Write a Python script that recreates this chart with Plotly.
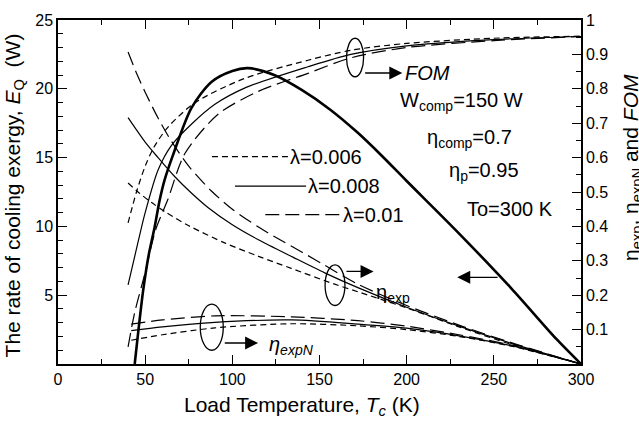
import plotly.graph_objects as go

# ---------------- data ----------------
# Rate of cooling exergy E_Q (W), left axis (single thick curve)
T_EQ = [44, 46, 48.8, 52, 55.5, 58.3, 61.2, 66, 76.5, 88, 100, 109, 124, 140, 156, 172, 186, 200, 228.7, 260, 286, 300]
EQ = [0, 2.3, 5.3, 7.9, 10.0, 11.9, 13.4, 15.2, 18.6, 20.5, 21.3, 21.5, 21.0, 19.9, 18.5, 16.8, 15.1, 13.3, 9.66, 5.5, 1.8, 0]

# eta_exp (right axis) for three lambda values
T_EXP_001 = [40.2, 45, 50, 57.4, 65, 75, 88, 100, 115, 124.3, 140, 153, 172, 200, 230, 260, 300]
EXP_001 = [0.907, 0.846, 0.79, 0.715, 0.648, 0.575, 0.503, 0.45, 0.398, 0.37, 0.325, 0.287, 0.232, 0.17, 0.113, 0.062, 0]
T_EXP_0008 = [40.2, 50, 57.4, 66.9, 76.5, 86, 100, 114.7, 135, 153, 172, 200, 230, 260, 300]
EXP_0008 = [0.716, 0.645, 0.6, 0.545, 0.497, 0.455, 0.405, 0.362, 0.31, 0.265, 0.222, 0.165, 0.11, 0.06, 0]
T_EXP_0006 = [40.2, 45.9, 53.5, 61.2, 75, 95.6, 115, 133.8, 158.7, 172, 200, 230, 260, 300]
EXP_0006 = [0.526, 0.5, 0.47, 0.443, 0.402, 0.352, 0.313, 0.278, 0.232, 0.21, 0.163, 0.108, 0.057, 0]

# eta_expN (right axis)
T_N = [42, 60, 90, 134, 172, 200, 230, 260, 300]
N_001 = [0.116, 0.128, 0.14, 0.137, 0.126, 0.11, 0.085, 0.055, 0]
N_0008 = [0.097, 0.108, 0.121, 0.128, 0.116, 0.104, 0.082, 0.053, 0]
N_0006 = [0.069, 0.085, 0.105, 0.117, 0.111, 0.1, 0.08, 0.052, 0]

# FOM (right axis)
T_FOM_0006 = [40.2, 45, 50, 55, 63, 78.4, 107, 143.4, 168, 200, 250, 300]
FOM_0006 = [0.41, 0.50, 0.575, 0.63, 0.688, 0.759, 0.83, 0.883, 0.912, 0.932, 0.947, 0.953]
T_FOM_0008 = [40.2, 45.9, 50, 57.4, 65, 76.5, 90, 107, 143.4, 168, 200, 250, 300]
FOM_0008 = [0.23, 0.354, 0.44, 0.564, 0.635, 0.697, 0.755, 0.802, 0.864, 0.9, 0.925, 0.943, 0.952]
T_FOM_001 = [40.2, 44, 49.7, 56, 63, 72.7, 91.8, 114.7, 143.4, 168, 200, 250, 300]
FOM_001 = [0.05, 0.15, 0.26, 0.39, 0.478, 0.611, 0.726, 0.792, 0.845, 0.89, 0.92, 0.94, 0.952]

LAMBDAS = ["λ=0.006", "λ=0.008", "λ=0.01"]
X_TICKS = [0, 50, 100, 150, 200, 250, 300]
Y1_TICKS = [5, 10, 15, 20, 25]
Y2_TICKS = [0.1, 0.2, 0.3, 0.4, 0.5, 0.6, 0.7, 0.8, 0.9, 1]

# ---------------- styles ----------------
FONT = "Arial, Liberation Sans, sans-serif"
DASH = {"λ=0.006": "6px,4px", "λ=0.008": "solid", "λ=0.01": "14px,6px"}
THIN = 1.2

fig = go.Figure()

def thin(x, y, lam):
    fig.add_trace(go.Scatter(x=x, y=y, yaxis="y2", mode="lines",
                             line=dict(color="black", width=THIN, dash=DASH[lam], shape="spline", smoothing=0.8),
                             showlegend=False, hoverinfo="skip"))

thin(T_EXP_0006, EXP_0006, "λ=0.006")
thin(T_EXP_0008, EXP_0008, "λ=0.008")
thin(T_EXP_001, EXP_001, "λ=0.01")
thin(T_N, N_0006, "λ=0.006")
thin(T_N, N_0008, "λ=0.008")
thin(T_N, N_001, "λ=0.01")
thin(T_FOM_0006, FOM_0006, "λ=0.006")
thin(T_FOM_0008, FOM_0008, "λ=0.008")
thin(T_FOM_001, FOM_001, "λ=0.01")

fig.add_trace(go.Scatter(x=T_EQ, y=EQ, mode="lines",
                         line=dict(color="black", width=2.6, shape="spline", smoothing=0.8),
                         showlegend=False, hoverinfo="skip"))

TXT = dict(size=20, family=FONT, color="black")

# ---------------- legend (drawn manually) ----------------
legend_rows = [(88.3, 131.9, 0.603), (101.5, 142.3, 0.517), (118.9, 162.3, 0.434)]
for lam, (xa, xb, yv) in zip(LAMBDAS, legend_rows):
    fig.add_shape(type="line", xref="x", yref="y2", x0=xa, x1=xb, y0=yv, y1=yv,
                  line=dict(color="black", width=THIN, dash=DASH[lam]))
    fig.add_annotation(xref="x", yref="y2", x=xb, y=yv, text=lam, showarrow=False,
                       xanchor="left", yanchor="middle", font=TXT)

# ---------------- ellipses + arrows ----------------
def ellipse(xc, yc, dx, dy):
    fig.add_shape(type="circle", xref="x", yref="y2", x0=xc - dx, x1=xc + dx, y0=yc - dy, y1=yc + dy,
                  line=dict(color="black", width=1.3))

ellipse(170.4, 0.891, 4.9, 0.056)   # FOM
ellipse(158.9, 0.229, 5.7, 0.059)   # eta_exp
ellipse(88.2, 0.107, 6.6, 0.067)    # eta_expN

def arrow(x0, y0, x1, y1, yref="y2"):
    fig.add_annotation(x=x1, y=y1, ax=x0, ay=y0, xref="x", yref=yref, axref="x", ayref=yref,
                       showarrow=True, arrowhead=2, arrowsize=2.0, arrowwidth=1.3, arrowcolor="black", text="")

arrow(175.3, 0.846, 197.5, 0.846)
arrow(164.6, 0.269, 181, 0.269)
arrow(94.8, 0.061, 114.8, 0.061)
arrow(253, 6.3, 229, 6.3, yref="y")

fig.add_annotation(xref="x", yref="y2", x=198, y=0.847, text="<i>FOM</i>", showarrow=False,
                   xanchor="left", yanchor="middle", font=TXT)
fig.add_annotation(xref="x", yref="y2", x=181, y=0.205, text="η<sub>exp</sub>", showarrow=False,
                   xanchor="left", yanchor="middle", font=TXT)
fig.add_annotation(xref="x", yref="y2", x=119.7, y=0.055, text="<i>η<sub>expN</sub></i>", showarrow=False,
                   xanchor="left", yanchor="middle", font=TXT)
fig.add_annotation(xref="x", yref="y2", x=195, y=0.762, text="W<sub>comp</sub>=150 W", showarrow=False,
                   xanchor="left", yanchor="middle", font=TXT)
fig.add_annotation(xref="x", yref="y2", x=210.5, y=0.655, text="η<sub>comp</sub>=0.7", showarrow=False,
                   xanchor="left", yanchor="middle", font=TXT)
fig.add_annotation(xref="x", yref="y2", x=223, y=0.56, text="η<sub>p</sub>=0.95", showarrow=False,
                   xanchor="left", yanchor="middle", font=TXT)
fig.add_annotation(xref="x", yref="y2", x=233.5, y=0.45, text="To=300 K", showarrow=False,
                   xanchor="left", yanchor="middle", font=TXT)

# axis titles
TITLE = dict(size=21, family=FONT, color="black")
fig.add_annotation(xref="paper", yref="paper", x=(14 - 58) / 523, y=0.49,
                   text="The rate of cooling exergy, <i>E</i><sub>Q</sub>  (W)",
                   textangle=-90, showarrow=False, xanchor="center", yanchor="middle", font=TITLE)
fig.add_annotation(xref="paper", yref="paper", x=(632 - 58) / 523, y=0.57,
                   text="η<sub>exp</sub>, η<sub>expN</sub> and <i>FOM</i>",
                   textangle=-90, showarrow=False, xanchor="center", yanchor="middle", font=TITLE)
fig.add_annotation(xref="paper", yref="paper", x=0.467, y=(364 - 407) / 351,
                   text="Load Temperature, <i>T<sub>c</sub></i> (K)",
                   showarrow=False, xanchor="center", yanchor="middle", font=TITLE)

AX = dict(showline=True, linecolor="black", linewidth=1.5, ticks="inside", tickcolor="black",
          tickwidth=1.3, ticklen=9, showgrid=False, zeroline=False,
          tickfont=dict(size=16, family=FONT, color="black"))

fig.update_layout(
    width=639, height=427, margin=dict(l=58, r=58, t=13, b=63),
    paper_bgcolor="white", plot_bgcolor="white", showlegend=False,
    xaxis=dict(range=[0, 300], tickvals=X_TICKS, mirror="ticks",
               minor=dict(dtick=25, ticks="inside", ticklen=5, tickcolor="black", tickwidth=1.2), **AX),
    yaxis=dict(range=[0, 25], tickvals=Y1_TICKS,
               minor=dict(dtick=1, ticks="inside", ticklen=5, tickcolor="black", tickwidth=1.2), **AX),
    yaxis2=dict(range=[0, 1], tickvals=Y2_TICKS, ticktext=[str(v) for v in Y2_TICKS], overlaying="y", side="right",
                minor=dict(dtick=0.05, ticks="inside", ticklen=5, tickcolor="black", tickwidth=1.2), **AX),
)

fig.write_html("out.html", config={"displayModeBar": False},
               post_script="document.body.style.margin='0px';")
